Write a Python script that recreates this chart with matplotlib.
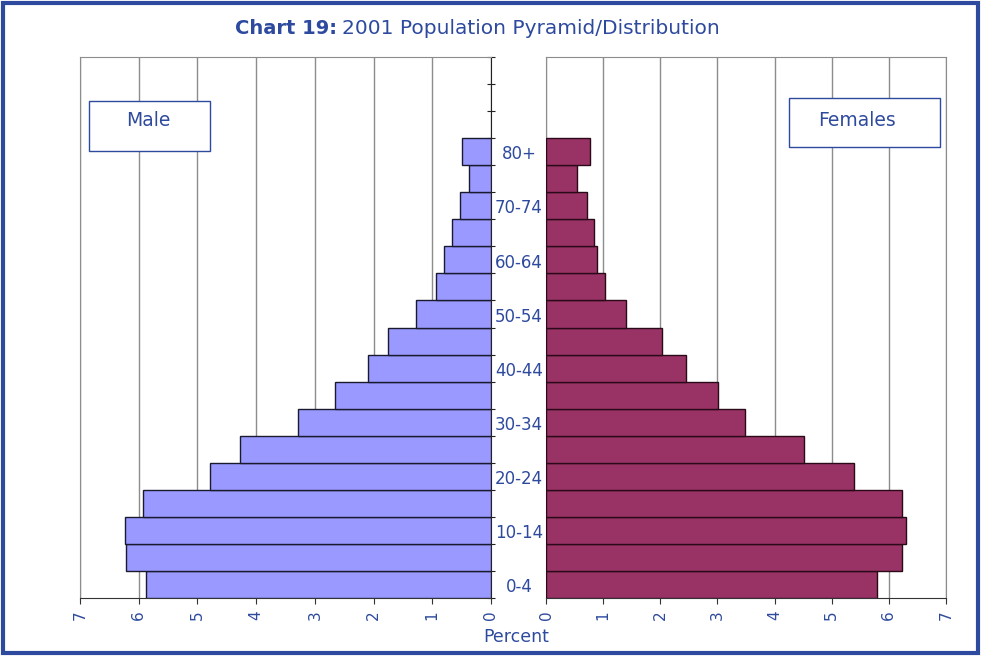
import numpy as np
import matplotlib.pyplot as plt
from matplotlib.patches import Rectangle
from matplotlib.transforms import blended_transform_factory

ages = ['0-4', '5-9', '10-14', '15-19', '20-24', '25-29', '30-34', '35-39',
        '40-44', '45-49', '50-54', '55-59', '60-64', '65-69', '70-74',
        '75-79', '80+']
male = [5.88, 6.22, 6.24, 5.93, 4.79, 4.28, 3.29, 2.66, 2.10, 1.75, 1.28,
        0.94, 0.80, 0.66, 0.53, 0.37, 0.49]
female = [5.80, 6.23, 6.30, 6.23, 5.39, 4.52, 3.49, 3.01, 2.45, 2.03, 1.40,
          1.03, 0.89, 0.84, 0.72, 0.54, 0.77]
xticks = [0, 1, 2, 3, 4, 5, 6, 7]

blue = '#2E4A9E'
grid_c = '#8c8c8c'
plt.rcParams['font.family'] = ['DejaVu Sans']

W, H = 981, 656
fig = plt.figure(figsize=(W / 100, H / 100), dpi=100)


def fx(px):
    return px / W


def fy(py):
    return 1 - py / H


ax1 = fig.add_axes([fx(80), fy(598), fx(491) - fx(80), fy(57) - fy(598)])
ax2 = fig.add_axes([fx(546), fy(598), fx(946) - fx(546), fy(57) - fy(598)])

y = np.arange(len(ages))
ax1.barh(y, male, height=1.0, color='#9999FF', edgecolor='#1a1a2e', lw=1, zorder=3)
ax2.barh(y, female, height=1.0, color='#993366', edgecolor='#2a0a18', lw=1, zorder=3)

for ax in (ax1, ax2):
    ax.set_ylim(-0.5, 19.5)
    ax.set_xticks(xticks)
    ax.set_yticks([])
    ax.grid(axis='x', color=grid_c, lw=1, zorder=0)
    for s in ('top', 'left', 'right'):
        ax.spines[s].set_color(grid_c)
    ax.spines['bottom'].set_color('#333333')
    ax.tick_params(axis='x', direction='out', length=4, color='#333333',
                   labelcolor=blue, labelsize=11, labelrotation=90, pad=5)

ax1.set_xlim(7, 0)
ax2.set_xlim(0, 7)

# center axis of the male side with ticks at the slot boundaries
ax1.spines['right'].set_color('#222222')
ax1.yaxis.set_ticks_position('right')
ax1.set_yticks(np.arange(-0.5, 20, 1.0))
ax1.set_yticklabels([])
ax1.tick_params(axis='y', direction='inout', length=6, color='#222222')

# age labels in the gap
tr = blended_transform_factory(fig.transFigure, ax1.transData)
for i in range(0, len(ages), 2):
    ax1.text(fx(519), y[i] - 0.1, ages[i], transform=tr, ha='center', va='center',
             fontsize=12, color=blue, clip_on=False)

# legend-like boxes
fig.patches.append(Rectangle((fx(89), fy(151)), fx(210) - fx(89), fy(101) - fy(151),
                             transform=fig.transFigure, facecolor='white',
                             edgecolor=blue, lw=1, zorder=5))
fig.text(fx(148), fy(120), 'Male', ha='center', va='center', fontsize=13.5,
         color=blue, zorder=6)
fig.patches.append(Rectangle((fx(789), fy(147)), fx(940) - fx(789), fy(98) - fy(147),
                             transform=fig.transFigure, facecolor='white',
                             edgecolor=blue, lw=1, zorder=5))
fig.text(fx(857), fy(120), 'Females', ha='center', va='center', fontsize=13.5,
         color=blue, zorder=6)

# title
fig.text(fx(337), fy(28), 'Chart 19:', ha='right', va='center', fontsize=14,
         fontweight='bold', color=blue)
fig.text(fx(342), fy(28), '2001 Population Pyramid/Distribution', ha='left',
         va='center', fontsize=14.5, color=blue)

fig.text(fx(516), fy(637), 'Percent', ha='center', va='center', fontsize=12.5,
         color=blue)

# outer frame
fig.patches.append(Rectangle((fx(3), fy(653)), fx(978) - fx(3), fy(3) - fy(653),
                             transform=fig.transFigure, facecolor='none',
                             edgecolor=blue, lw=3, zorder=10))

fig.savefig('out.png', dpi=100)
